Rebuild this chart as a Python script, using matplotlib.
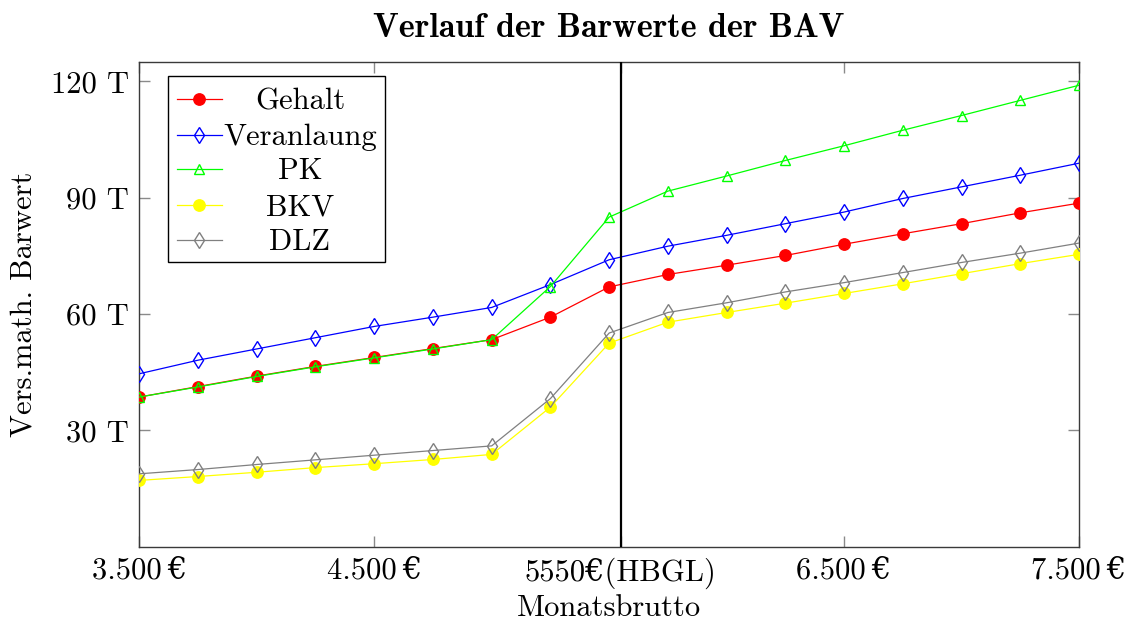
import matplotlib
matplotlib.use("Agg")
import matplotlib.pyplot as plt
from matplotlib.patches import Rectangle
from matplotlib.lines import Line2D

# Monthly gross salary (EUR) and present values (thousand EUR)
monatsbrutto = [3500, 3750, 4000, 4250, 4500, 4750, 5000, 5250, 5500,
                5750, 6000, 6250, 6500, 6750, 7000, 7250, 7500]

gehalt = [38.6, 41.3, 44.0, 46.5, 48.8, 51.1, 53.4, 59.2, 67.0,
          70.2, 72.6, 75.1, 78.0, 80.7, 83.3, 86.1, 88.6]
veranlagung = [44.6, 48.1, 51.0, 53.9, 56.8, 59.2, 61.7, 67.6, 74.0,
               77.5, 80.3, 83.3, 86.3, 89.8, 92.8, 95.8, 98.9]
pk = [38.6, 41.2, 43.9, 46.4, 48.7, 51.0, 53.4, 67.1, 85.0,
      91.7, 95.6, 99.6, 103.4, 107.4, 111.2, 115.1, 119.0]
bkv = [17.1, 18.1, 19.2, 20.4, 21.4, 22.5, 23.8, 36.0, 52.5,
       57.9, 60.4, 62.8, 65.3, 67.8, 70.4, 73.0, 75.4]
dlz = [18.8, 19.9, 21.2, 22.4, 23.6, 24.8, 26.0, 38.2, 55.1,
       60.4, 62.9, 65.7, 68.1, 70.7, 73.3, 75.7, 78.3]

series_names = ["Gehalt", "Veranlaung", "PK", "BKV", "DLZ"]
series_values = [gehalt, veranlagung, pk, bkv, dlz]

hbgl = 5550
x_ticks = [3500, 4500, 5550, 6500, 7500]
x_tick_labels = ["3.500\u2009€", "4.500\u2009€", "5550€(HBGL)", "6.500\u2009€", "7.500\u2009€"]
y_ticks = [30, 60, 90, 120]
y_tick_labels = ["30 T", "60 T", "90 T", "120 T"]

styles = [
    dict(color="#ff0000", marker="o", markersize=8.2, markerfacecolor="#ff0000", markeredgecolor="#ff0000"),
    dict(color="#0000ff", marker="d", markersize=8.2, markerfacecolor="none", markeredgecolor="#0000ff", markeredgewidth=1.0),
    dict(color="#00ff00", marker="^", markersize=7.5, markerfacecolor="none", markeredgecolor="#00ff00", markeredgewidth=1.0),
    dict(color="#ffff00", marker="o", markersize=8.2, markerfacecolor="#ffff00", markeredgecolor="#ffff00"),
    dict(color="#808080", marker="d", markersize=8.2, markerfacecolor="none", markeredgecolor="#808080", markeredgewidth=1.0),
]

FS = 22
plt.rcParams["font.family"] = ["cmr10", "DejaVu Serif"]
plt.rcParams["font.size"] = FS
plt.rcParams["axes.unicode_minus"] = False

fig = plt.figure(figsize=(11.32, 6.2), dpi=100)
ax = fig.add_axes([139.3 / 1132, 1 - 546.7 / 620, 939.7 / 1132, 484.7 / 620])

for vals, st in zip(series_values, styles):
    ax.plot(monatsbrutto, vals, linewidth=0.9, zorder=3, **st)

ax.axvline(hbgl, color="black", linewidth=1.6, zorder=4)

ax.set_xlim(3500, 7500)
ax.set_ylim(0, 125)
ax.set_xticks(x_ticks)
ax.set_xticklabels(x_tick_labels)
ax.set_yticks(y_ticks)
ax.set_yticklabels(y_tick_labels)
ax.tick_params(direction="in", length=8, width=1.0, color="#8a8a8a",
               top=True, right=True, pad=7.5, labelsize=FS)

for sp in ax.spines.values():
    sp.set_color("#3a3a3a")
    sp.set_linewidth(1.0)

ax.set_title("Verlauf der Barwerte der BAV", fontsize=24.5,
             family=["cmb10", "DejaVu Serif"], pad=18)
ax.set_xlabel("Monatsbrutto", fontsize=FS)
ax.xaxis.set_label_coords(0.5, -0.098)
ax.set_ylabel("Vers.math. Barwert", fontsize=FS)
ax.yaxis.set_label_coords(-0.108, 0.5)

# Legend box with centred entry texts
box_x0, box_x1 = 0.0305, 0.2615
box_y0, box_y1 = 0.5874, 0.971
ax.add_patch(Rectangle((box_x0, box_y0), box_x1 - box_x0, box_y1 - box_y0,
                       transform=ax.transAxes, facecolor="white",
                       edgecolor="black", linewidth=1.0, zorder=6))
entry_y = [0.923, 0.8494, 0.7786, 0.7049, 0.6327]
for name, st, yy in zip(series_names, styles, entry_y):
    line_kw = {k: v for k, v in st.items() if not k.startswith("marker")}
    ax.add_line(Line2D([0.0401, 0.0880], [yy, yy], transform=ax.transAxes,
                       linewidth=0.9, zorder=7, **line_kw))
    ax.add_line(Line2D([0.0639], [yy], transform=ax.transAxes,
                       linestyle="none", zorder=8, **st))
    ax.text(0.171, yy - 0.0206, name, transform=ax.transAxes, ha="center",
            va="baseline", fontsize=FS, zorder=8)

fig.savefig("out.png", dpi=100)
